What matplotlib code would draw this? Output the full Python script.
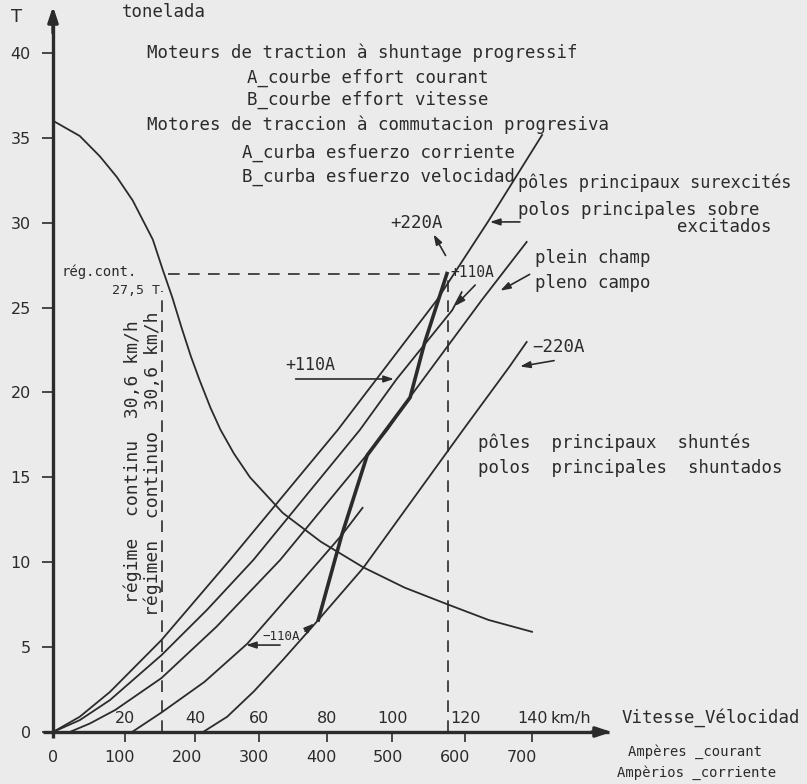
import matplotlib
matplotlib.use("Agg")
import matplotlib.pyplot as plt

# courbe B : effort (T) en fonction du courant (A)
amps_b = [0, 40, 70, 95, 119, 149, 164, 178, 192, 206, 219, 235, 250, 270, 294,
          343, 400, 463, 525, 590, 650, 715]
effort_b = [36.0, 35.1, 33.9, 32.7, 31.3, 29.0, 27.2, 25.6, 23.8, 22.1, 20.7, 19.1,
            17.8, 16.4, 15.0, 12.9, 11.2, 9.7, 8.5, 7.5, 6.6, 5.9]

# courbes A : effort / courant pour chaque excitation
amps_p220 = [0, 40, 85, 162, 264, 425, 573, 649, 730]
effort_p220 = [0, 0.9, 2.36, 5.42, 10.13, 17.79, 25.44, 30.04, 35.16]
amps_p110 = [0, 40, 85, 162, 230, 299, 458, 513, 596, 610]
effort_p110 = [0, 0.7, 1.88, 4.53, 7.2, 10.13, 17.79, 20.79, 24.85, 25.9]
amps_0 = [25, 55, 93, 162, 244, 339, 499, 533, 640, 707]
effort_0 = [0, 0.5, 1.3, 3.18, 6.2, 10.13, 17.79, 19.73, 25.44, 28.86]
amps_m110 = [118, 162, 226, 290, 369, 431, 462]
effort_m110 = [0, 1.15, 2.95, 5.2, 8.78, 11.6, 13.2]
amps_m220 = [224, 260, 300, 343, 396, 463, 612, 681, 707]
effort_m220 = [0, 0.9, 2.4, 4.24, 6.6, 9.66, 17.79, 21.5, 22.97]

# passage d'une courbe a l'autre (trait fort)
amps_step = [396, 431, 469, 533, 555, 588]
effort_step = [6.6, 11.6, 16.3, 19.7, 22.97, 27.0]

# vitesses reportees sur l'axe des courants
speeds = ["20", "40", "60", "80", "100", "120", "140"]
speed_amps = [107, 212, 307, 409, 506, 615, 715]
amp_ticks = [0, 100, 200, 300, 400, 500, 600, 700]
t_ticks = [0, 5, 10, 15, 20, 25, 30, 35, 40]

cont_amps = 162      # regime continu
cont_effort = 27.0
max_amps = 590

ink = "#2b2b2b"
bg = "#ebebeb"
mono = "DejaVu Sans Mono"
plt.rcParams["font.family"] = ["DejaVu Sans"]

fig = plt.figure(figsize=(8.07, 7.84), dpi=100, facecolor=bg)
ax = fig.add_axes([53 / 807, 52 / 784, 754 / 807, 732 / 784])
ax.set_facecolor(bg)
ax.set_xlim(0, 1125.4)
ax.set_ylim(0, 43.11)
for s in ax.spines.values():
    s.set_visible(False)

# axes avec fleches
ax.plot([-15, 830], [0, 0], color=ink, lw=2.4, clip_on=False, solid_capstyle="butt")
ax.plot([0, 0], [-0.35, 42.0], color=ink, lw=2.4, clip_on=False, solid_capstyle="butt")
ax.annotate("", xy=(838, 0), xytext=(800, 0), annotation_clip=False,
            arrowprops=dict(arrowstyle="-|>,head_length=0.9,head_width=0.3", color=ink, lw=2.4))
ax.annotate("", xy=(0, 42.9), xytext=(0, 41.0), annotation_clip=False,
            arrowprops=dict(arrowstyle="-|>,head_length=0.9,head_width=0.3", color=ink, lw=2.4))

ax.set_yticks(t_ticks)
ax.set_yticklabels([str(t) for t in t_ticks])
ax.tick_params(axis="y", direction="out", length=8, width=1.2, pad=8,
               colors=ink, labelsize=11.5)
ax.set_xticks(amp_ticks)
ax.set_xticklabels([str(a) for a in amp_ticks])
ax.tick_params(axis="x", which="major", length=0, pad=13, colors=ink, labelsize=11.5)
ax.set_xticks(speed_amps, minor=True)
ax.tick_params(axis="x", which="minor", direction="out", length=7, width=1.2, colors=ink)

# courbes
lw = 1.3
ax.plot(amps_b, effort_b, color=ink, lw=lw)
ax.plot(amps_p220, effort_p220, color=ink, lw=lw)
ax.plot(amps_p110, effort_p110, color=ink, lw=lw)
ax.plot(amps_0, effort_0, color=ink, lw=lw)
ax.plot(amps_m110, effort_m110, color=ink, lw=lw)
ax.plot(amps_m220, effort_m220, color=ink, lw=lw)
ax.plot(amps_step, effort_step, color=ink, lw=2.6)

# regime continu
dash = dict(color=ink, lw=1.2, dashes=(7, 5))
ax.plot([cont_amps, cont_amps], [0, 26.0], **dash)
ax.plot([max_amps, max_amps], [0, cont_effort], **dash)
ax.plot([172, max_amps], [cont_effort, cont_effort], **dash)

tx = dict(color=ink, fontsize=12.5, va="center", ha="left", family=mono)
ax.text(-55, 42.1, "T", color=ink, fontsize=13, ha="center", va="center", clip_on=False)
ax.text(103, 42.4, "tonelada", **tx)
ax.text(140, 40.0, "Moteurs de traction à shuntage progressif", **tx)
ax.text(290, 38.5, "A_courbe effort courant", **tx)
ax.text(290, 37.2, "B_courbe effort vitesse", **tx)
ax.text(140, 35.75, "Motores de traccion à commutacion progresiva", **tx)
ax.text(282, 34.1, "A_curba esfuerzo corriente", **tx)
ax.text(282, 32.7, "B_curba esfuerzo velocidad", **tx)
ax.text(694, 32.33, "pôles principaux surexcités", color=ink, fontsize=12.2,
        va="center", ha="left", family=mono)
ax.text(694, 30.74, "polos principales sobre", **tx)
ax.text(931, 29.74, "excitados", **tx)
ax.text(719, 27.92, "plein champ", **tx)
ax.text(719, 26.44, "pleno campo", **tx)
ax.text(634, 17.02, "pôles  principaux  shuntés", **tx)
ax.text(634, 15.55, "polos  principales  shuntados", **tx)

sm = dict(color=ink, va="center", family=mono)
ax.text(543, 29.98, "+220A", ha="center", fontsize=12.5, **sm)
ax.text(593, 27.09, "+110A", ha="left", fontsize=10.5, **sm)
ax.text(346, 21.61, "+110A", ha="left", fontsize=12, **sm)
ax.text(312, 5.65, "−110A", ha="left", fontsize=9, **sm)
ax.text(716, 22.67, "−220A", ha="left", fontsize=12.5, **sm)
ax.text(13, 27.09, "rég.cont.", ha="left", fontsize=10, **sm)
ax.text(160, 26.03, "27,5 T", ha="right", fontsize=9.5, **sm)

ax.text(119, 15.9, "régime  continu  30,6 km/h", rotation=90, ha="center",
        va="center", color=ink, fontsize=13, family=mono)
ax.text(149, 15.8, "régimen  continuo  30,6 km/h", rotation=90, ha="center",
        va="center", color=ink, fontsize=13, family=mono)

for lab, a in zip(speeds, speed_amps):
    ax.text(a, 0.82, lab, ha="center", va="center", color=ink, fontsize=11.5)
ax.text(742, 0.82, "km/h", ha="left", va="center", color=ink, fontsize=11.5)
ax.text(849, 0.82, "Vitesse_Vélocidad", **tx)
ax.text(958, -1.18, "Ampères _courant", ha="center", va="center", color=ink,
        fontsize=10, family=mono, clip_on=False)
ax.text(961, -2.41, "Ampèrios _corriente", ha="center", va="center", color=ink,
        fontsize=10, family=mono, clip_on=False)

# fleches de reperage
arr = dict(arrowstyle="-|>,head_length=0.6,head_width=0.2", color=ink, lw=1.2)
ax.annotate("", xy=(566, 29.45), xytext=(588, 27.92), arrowprops=arr)
ax.annotate("", xy=(648, 30.04), xytext=(701, 30.04), arrowprops=arr)
ax.annotate("", xy=(664, 25.91), xytext=(715, 27.03), arrowprops=arr)
ax.annotate("", xy=(597, 24.97), xytext=(633, 26.44), arrowprops=arr)
ax.annotate("", xy=(513, 20.79), xytext=(358, 20.79), arrowprops=arr)
ax.annotate("", xy=(284, 5.12), xytext=(343, 5.12), arrowprops=arr)
ax.annotate("", xy=(393, 6.5), xytext=(373, 5.83), arrowprops=arr)
ax.annotate("", xy=(693, 21.5), xytext=(752, 21.9), arrowprops=arr)

fig.savefig("out.png", dpi=100, facecolor=bg)
